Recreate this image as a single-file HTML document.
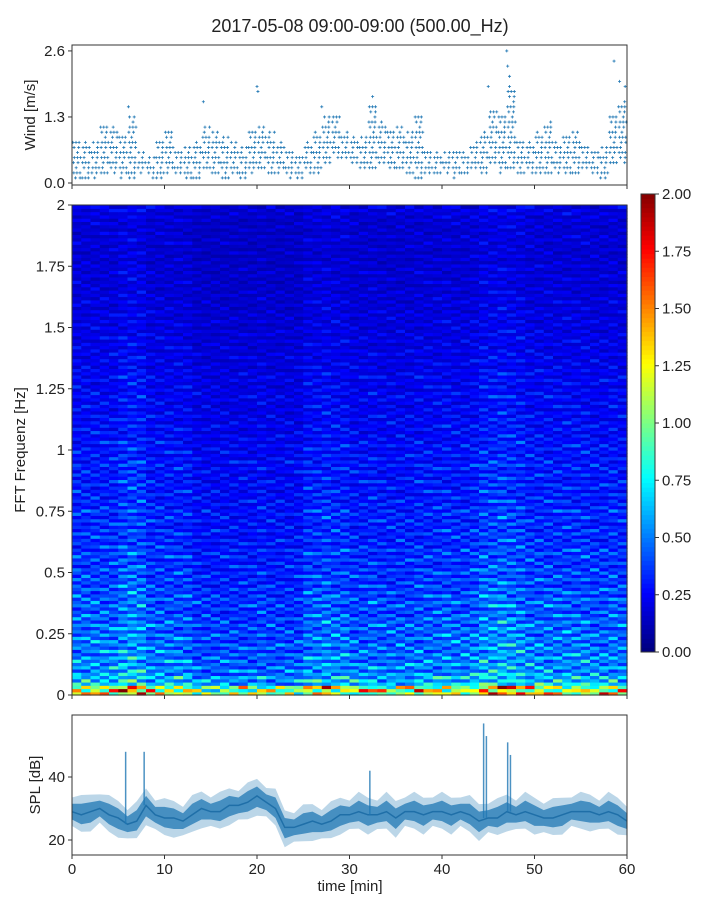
<!DOCTYPE html>
<html><head><meta charset="utf-8">
<style>
html,body{margin:0;padding:0;background:#fff;}
svg{display:block;font-family:"Liberation Sans","DejaVu Sans",sans-serif;}
</style></head>
<body>
<svg id="fig" width="720" height="900" viewBox="0 0 720 900">
<text x="360" y="32" text-anchor="middle" font-size="18" fill="#222">2017-05-08 09:00-09:00 (500.00_Hz)</text>
<g id="wind"></g>
<g id="spec"></g>
<g id="cbar"></g>
<g id="spl"></g>
</svg>
<script>
// ---------- data ----------
const windLo=[0.1,0.1,0.1,0.2,0.2,0.1,0.1,0.2,0.1,0.1,0.2,0.2,0.1,0.1,0.3,0.2,0.1,0.2,0.1,0.2,0.3,0.2,0.2,0.1,0.1,0.2,0.2,0.4,0.5,0.5,0.4,0.3,0.3,0.4,0.3,0.3,0.2,0.1,0.2,0.2,0.2,0.1,0.2,0.3,0.2,0.4,0.2,0.3,0.2,0.2,0.2,0.2,0.2,0.2,0.2,0.3,0.2,0.1,0.4,0.4];
const windHi=[0.8,0.8,0.8,1.1,1.1,0.9,1.3,0.6,0.5,0.8,1.0,0.6,0.7,0.8,1.1,1.0,0.9,0.8,0.7,1.0,1.1,1.0,0.8,0.6,0.5,0.8,1.0,1.3,1.3,1.0,0.9,0.9,1.5,1.2,1.0,1.1,1.0,1.3,0.6,0.6,0.6,0.6,0.6,0.8,1.0,1.4,1.3,1.9,0.8,0.8,1.0,1.2,0.8,0.9,1.0,0.7,0.6,0.7,1.3,1.6];
const windPeakT=[6.1,14.2,20.0,20.1,27.0,32.5,45.0,47.0,47.1,47.3,58.6,59.2,59.8];
const windPeakV=[1.5,1.6,1.9,1.8,1.5,1.7,1.9,2.6,2.3,2.1,2.4,2.0,1.9];
const windTicks=[0.0,1.3,2.6];
const splMean=[29,28,29,30,28,27,25,26,31,28,27,27,26,28,30,29,29,31,31,32,34,32,30,24,24,25,26,25,26,28,28,29,28,28,29,27,29,29,28,29,29,28,29,28,26,27,27,29,28,29,28,27,27,28,29,29,29,28,29,28,26];
const splSpikeT=[5.8,7.8,44.5,44.8,47.1,47.4,32.2];
const splSpikeV=[48,48,57,53,51,47,42];
const splTicks=[20,40];
const freqProfile=[1.1,0.6,0.5,0.48,0.45,0.44,0.42,0.42,0.38,0.4,0.37,0.35,0.35,0.33,0.34,0.31,0.31,0.3,0.31,0.29,0.28,0.28,0.27,0.28,0.26,0.26,0.24,0.24,0.23,0.22,0.23,0.21,0.22,0.2,0.2,0.19,0.19,0.18,0.18,0.17,0.17,0.16,0.16,0.16,0.15,0.15,0.16,0.15,0.16,0.18];
const timeFactor=[1.05,1.05,1.05,1.05,1.05,1.2,1.25,1.2,1.0,1.0,1.0,1.0,1.0,0.85,0.85,0.85,0.85,0.85,0.85,0.85,0.9,0.85,0.85,0.85,0.85,1.05,1.05,1.1,1.05,1.05,0.95,0.95,1.0,0.95,0.95,0.95,0.95,1.0,1.0,1.0,1.05,1.0,1.0,1.05,1.2,1.2,1.25,1.2,1.15,1.05,1.05,1.05,1.05,1.05,1.05,1.05,1.0,1.0,1.05,1.0];
const streak=[0,0.3,-0.25,0.45,-0.3,0.1,0.35,-0.35,0.15,-0.1,0.6,-0.2,0.05,-0.4,0.25,0.0,-0.15,0.4,-0.3,0.12,-0.05,0.2,-0.28,0.5,-0.12,0.08,-0.33,0.18,0.02,-0.22,0.7,-0.18];
const freqTicks=[0,0.25,0.5,0.75,1,1.25,1.5,1.75,2];
const freqTickLabels=["0","0.25","0.5","0.75","1","1.25","1.5","1.75","2"];
const cbarTicks=[0,0.25,0.5,0.75,1,1.25,1.5,1.75,2];
const timeTicks=[0,10,20,30,40,50,60];

const NS="http://www.w3.org/2000/svg";
function mk(tag,attrs,parent){const e=document.createElementNS(NS,tag);for(const k in attrs)e.setAttribute(k,attrs[k]);parent.appendChild(e);return e;}
const X0=72,X1=627;
const xs=t=>X0+(t/60)*(X1-X0);
function jet(v){v=Math.max(0,Math.min(1,v));
 const r=Math.max(0,Math.min(1,1.5-Math.abs(4*v-3)));
 const g=Math.max(0,Math.min(1,1.5-Math.abs(4*v-2)));
 const b=Math.max(0,Math.min(1,1.5-Math.abs(4*v-1)));
 return `rgb(${Math.round(r*255)},${Math.round(g*255)},${Math.round(b*255)})`;}

// ---------- wind ----------
const W=document.getElementById('wind');
const wy=v=>183-v*50.8;
for(let m=0;m<60;m++){
 for(let lv=Math.round(windLo[m]*10);lv<=Math.round(windHi[m]*10);lv++){
  const v=lv/10;
  const n=((lv+m)%3)+1;
  for(let k=0;k<n;k++){
   const t=m+(k+0.3+((lv*7+m)%4)*0.15)/n;
   const p=mk('path',{d:`M${xs(t)-1.5},${wy(v)}h3M${xs(t)},${wy(v)-1.5}v3`,stroke:'#1f77b4','stroke-width':0.8},W);
   
   
  }
 }
}
windPeakT.forEach((t,i)=>{
 const p=mk('path',{d:`M${xs(t)-1.5},${wy(windPeakV[i])}h3M${xs(t)},${wy(windPeakV[i])-1.5}v3`,stroke:'#1f77b4','stroke-width':0.8},W);
 
 
});
mk('rect',{x:X0,y:45,width:X1-X0,height:140,fill:'none',stroke:'#333','stroke-width':1},W);
windTicks.forEach(v=>{
 mk('line',{x1:X0-4,x2:X0,y1:wy(v),y2:wy(v),stroke:'#333'},W);
 const t=mk('text',{x:X0-7,y:wy(v)+5,'text-anchor':'end','font-size':15,fill:'#222'},W);t.textContent=v.toFixed(1);
 
});
timeTicks.forEach(v=>mk('line',{x1:xs(v),x2:xs(v),y1:185,y2:189,stroke:'#333'},W));
{const t=mk('text',{x:0,y:0,transform:'translate(35,115) rotate(-90)','text-anchor':'middle','font-size':15,fill:'#222'},W);t.textContent='Wind [m/s]';
}

// ---------- spectrogram ----------
const S=document.getElementById('spec');
const SY0=695,SY1=205;
const fy=f=>SY0-(f/2)*(SY0-SY1);
const cw=(X1-X0)/60;
for(let r=0;r<freqProfile.length;r++){
 for(let s=0;s<3;s++){
  const f=r*0.04+s*0.04/3;
  for(let c=0;c<60;c++){
   const v=freqProfile[r]*timeFactor[c]*(1+streak[(r*3+s+c*5+((c*c)%7))%streak.length]);
   const rc=mk('rect',{x:xs(c).toFixed(2),y:fy(f+0.04/3).toFixed(2),width:(cw+0.6).toFixed(2),height:3.9,fill:jet(v/2)},S);
   
   
  }
 }
}
mk('rect',{x:X0,y:SY1,width:X1-X0,height:SY0-SY1,fill:'none',stroke:'#333'},S);
freqTicks.forEach((f,i)=>{
 mk('line',{x1:X0-4,x2:X0,y1:fy(f),y2:fy(f),stroke:'#333'},S);
 const t=mk('text',{x:X0-7,y:fy(f)+5,'text-anchor':'end','font-size':15,fill:'#222'},S);t.textContent=freqTickLabels[i];
 
});
timeTicks.forEach(v=>mk('line',{x1:xs(v),x2:xs(v),y1:SY0,y2:SY0+4,stroke:'#333'},S));
{const t=mk('text',{x:0,y:0,transform:'translate(25,450) rotate(-90)','text-anchor':'middle','font-size':15,fill:'#222'},S);t.textContent='FFT Frequenz [Hz]';
}

// ---------- colorbar ----------
const C=document.getElementById('cbar');
const CY0=652,CY1=194;
const cy=v=>CY0-(v/2)*(CY0-CY1);
for(let i=0;i<100;i++){
 const v=i/100*2;
 mk('rect',{x:641,y:cy(v+0.02),width:14,height:(CY0-CY1)/100+0.5,fill:jet(v/2)},C);
}
mk('rect',{x:641,y:CY1,width:14,height:CY0-CY1,fill:'none',stroke:'#333'},C);
cbarTicks.forEach(v=>{
 mk('line',{x1:655,x2:659,y1:cy(v),y2:cy(v),stroke:'#333'},C);
 const t=mk('text',{x:662,y:cy(v)+5,'font-size':15,fill:'#222'},C);t.textContent=v.toFixed(2);
 
});

// ---------- SPL ----------
const P=document.getElementById('spl');
const py=v=>840-(v-20)*3.15;
function band(h,op){
 let d='';
 for(let i=0;i<splMean.length;i++){d+=(i?'L':'M')+xs(i)+','+py(splMean[i]+h*(1+((i*5)%3)*0.2));}
 for(let i=splMean.length-1;i>=0;i--){d+='L'+xs(i)+','+py(splMean[i]-h*(1+((i*7)%3)*0.2));}
 const p=mk('path',{d:d+'Z',fill:'#1f77b4','fill-opacity':op},P);
 
 
}
band(4.5,0.3);band(2.5,0.75);
{let d='';splMean.forEach((v,i)=>{d+=(i?'L':'M')+xs(i)+','+py(v);});
 const l=mk('path',{d:d,fill:'none',stroke:'#1f6fa8','stroke-width':1.5},P);
 }
splSpikeT.forEach((t,i)=>{
 const l=mk('line',{x1:xs(t),x2:xs(t),y1:py(splMean[Math.round(t)]),y2:py(splSpikeV[i]),stroke:'#1f77b4','stroke-width':1.5,'stroke-opacity':0.8},P);
 
});
mk('rect',{x:X0,y:715,width:X1-X0,height:140,fill:'none',stroke:'#333'},P);
splTicks.forEach(v=>{
 mk('line',{x1:X0-4,x2:X0,y1:py(v),y2:py(v),stroke:'#333'},P);
 const t=mk('text',{x:X0-7,y:py(v)+5,'text-anchor':'end','font-size':15,fill:'#222'},P);t.textContent=v;
 
});
timeTicks.forEach(v=>{
 mk('line',{x1:xs(v),x2:xs(v),y1:855,y2:859,stroke:'#333'},P);
 const t=mk('text',{x:xs(v),y:874,'text-anchor':'middle','font-size':15,fill:'#222'},P);t.textContent=v;
 
});
{const t=mk('text',{x:0,y:0,transform:'translate(40,785) rotate(-90)','text-anchor':'middle','font-size':15,fill:'#222'},P);t.textContent='SPL [dB]';
}
{const t=mk('text',{x:350,y:891,'text-anchor':'middle','font-size':15,fill:'#222'},P);t.textContent='time [min]';
}
</script>
</body></html>
